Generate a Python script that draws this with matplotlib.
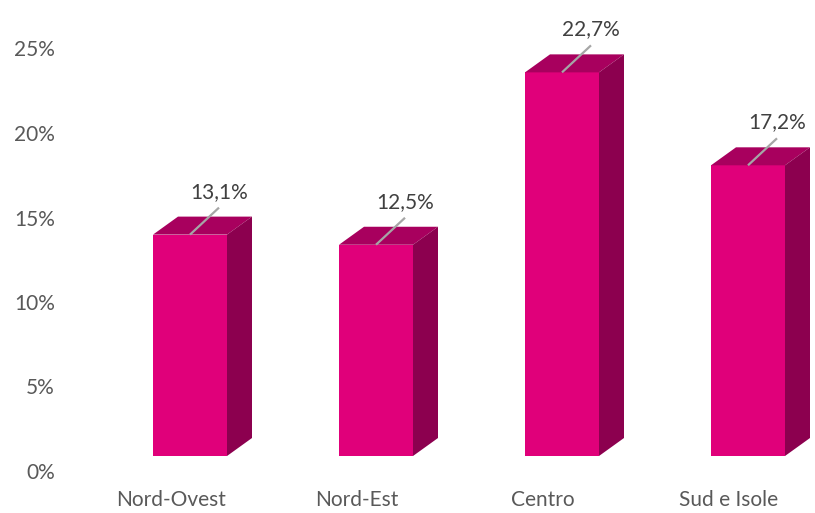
import matplotlib
matplotlib.use("Agg")
import matplotlib.pyplot as plt
from matplotlib.patches import Polygon

categories = ["Nord-Ovest", "Nord-Est", "Centro", "Sud e Isole"]
values = [13.1, 12.5, 22.7, 17.2]
value_labels = ["13,1%", "12,5%", "22,7%", "17,2%"]
yticks = [0, 5, 10, 15, 20, 25]
ytick_labels = ["0%", "5%", "10%", "15%", "20%", "25%"]

FRONT = "#E0007A"
TOP = "#A8005E"
SIDE = "#8C004F"

W, H = 815, 513
fig = plt.figure(figsize=(W / 100, H / 100), dpi=100)
ax_left, ax_right, ax_top, ax_bot = 80, 815, 10, 475
ax = fig.add_axes([ax_left / W, (H - ax_bot) / H, (ax_right - ax_left) / W, (ax_bot - ax_top) / H])

px_x = 186.0   # pixels per category unit
px_y = 16.9    # pixels per percent
x0_px = 171.0  # pixel of first category
y0_px = 471.0  # pixel of 0%
ax.set_xlim((ax_left - x0_px) / px_x, (ax_right - x0_px) / px_x)
ax.set_ylim((y0_px - ax_bot) / px_y, (y0_px - ax_top) / px_y)

shift = 19 / px_x
width = 74 / px_x
dx = 25 / px_x
dy = 18 / px_y
base = 15 / px_y

xs = [i + shift for i in range(len(categories))]
bars = ax.bar(xs, values, width=width, bottom=base, color=FRONT, zorder=3, linewidth=0)

for rect in bars:
    x1 = rect.get_x()
    x2 = x1 + rect.get_width()
    yb = rect.get_y()
    yt = yb + rect.get_height()
    ax.add_patch(Polygon([(x1, yt), (x2, yt), (x2 + dx, yt + dy), (x1 + dx, yt + dy)],
                         closed=True, facecolor=TOP, edgecolor="none", zorder=3))
    ax.add_patch(Polygon([(x2, yb), (x2 + dx, yb + dy), (x2 + dx, yt + dy), (x2, yt)],
                         closed=True, facecolor=SIDE, edgecolor="none", zorder=3))

lab_dx = 29 / px_x
line_dy = 27 / px_y
text_dy = 43 / px_y
for rect, lab in zip(bars, value_labels):
    cx = rect.get_x() + rect.get_width() / 2
    yt = rect.get_y() + rect.get_height()
    ax.plot([cx, cx + lab_dx], [yt, yt + line_dy], color="#A6A6A6", lw=1.6,
            zorder=4, solid_capstyle="butt")
    ax.text(cx + lab_dx, yt + text_dy, lab, ha="center", va="center",
            fontsize=15, color="#404040", family="Lato", zorder=5)

ax.set_xticks(range(len(categories)))
ax.set_xticklabels(categories, fontsize=15, color="#595959", family="Lato")
ax.set_yticks(yticks)
ax.set_yticklabels(ytick_labels, fontsize=15, color="#595959", family="Lato")
ax.tick_params(axis="both", length=0)
ax.tick_params(axis="y", pad=18)
ax.tick_params(axis="x", pad=11)
for s in ax.spines.values():
    s.set_visible(False)
ax.set_facecolor("white")

fig.savefig("out.png", dpi=100, facecolor="white")
